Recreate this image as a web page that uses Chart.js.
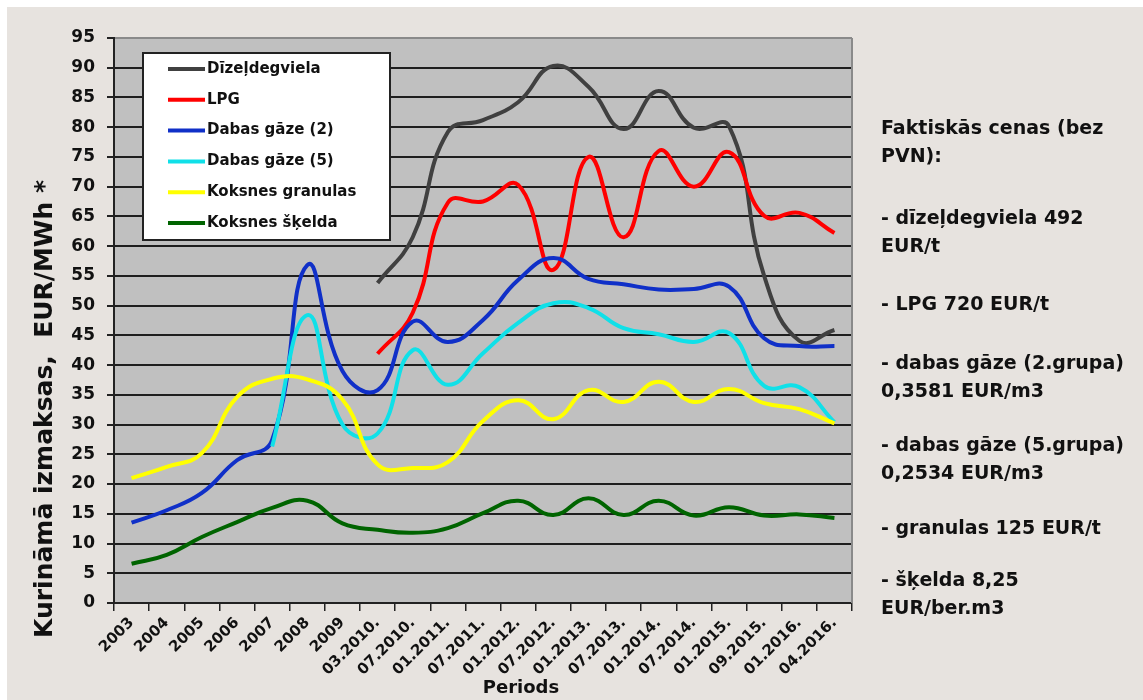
<!DOCTYPE html>
<html>
<head>
<meta charset="utf-8">
<script src="https://cdn.jsdelivr.net/npm/chart.js@4"></script>
<style>
  html, body { margin: 0; padding: 0; background: #ffffff; }
  #wrap { position: absolute; left: 7px; top: 7px; width: 1136px; height: 693px; background: #e7e3df; }
  #chart { position: absolute; left: 0; top: 0; }
  .note { position: absolute; left: 874px; font: bold 19px "DejaVu Sans", sans-serif; line-height: 28px; color: #111; white-space: nowrap; }
</style>
</head>
<body>
<div id="wrap">
  <canvas id="chart" width="1136" height="693"></canvas>
  <div class="note" style="top:106px">Faktiskās cenas (bez<br>PVN):</div>
  <div class="note" style="top:196px">- dīzeļdegviela 492<br>EUR/t</div>
  <div class="note" style="top:282px">- LPG 720 EUR/t</div>
  <div class="note" style="top:341px">- dabas gāze (2.grupa)<br>0,3581 EUR/m3</div>
  <div class="note" style="top:423px">- dabas gāze (5.grupa)<br>0,2534 EUR/m3</div>
  <div class="note" style="top:506px">- granulas 125 EUR/t</div>
  <div class="note" style="top:558px">- šķelda 8,25<br>EUR/ber.m3</div>
</div>
<script>
const categories = ['2003', '2004', '2005', '2006', '2007', '2008', '2009',
  '03.2010.', '07.2010.', '01.2011.', '07.2011.', '01.2012.', '07.2012.', '01.2013.',
  '07.2013.', '01.2014.', '07.2014.', '01.2015.', '09.2015.', '01.2016.', '04.2016.'];

const yTicks = [0, 5, 10, 15, 20, 25, 30, 35, 40, 45, 50, 55, 60, 65, 70, 75, 80, 85, 90, 95];

const diesel  = [null, null, null, null, null, null, null, 53.8, 61.5, 79.2, 81.2, 84.2, 90.3, 86.8, 79.7, 86.1, 79.9, 80.2, 55.0, 44.1, 45.9];
const lpg     = [null, null, null, null, null, null, null, 41.9, 48.8, 67.3, 67.5, 70.3, 56.0, 75.0, 61.5, 76.0, 70.0, 75.8, 65.1, 65.6, 62.2];
const gas2    = [13.5, 15.6, 18.5, 24.0, 27.4, 56.8, 39.0, 35.8, 47.3, 43.9, 47.6, 54.3, 58.0, 54.5, 53.6, 52.7, 52.8, 53.2, 44.5, 43.2, 43.2];
const gas5    = [null, null, null, null, 26.3, 48.4, 30.0, 28.5, 42.5, 36.7, 42.0, 47.1, 50.4, 49.6, 46.2, 45.2, 43.9, 45.4, 36.5, 36.3, 30.4];
const pellets = [21.0, 22.9, 25.2, 34.6, 37.7, 37.6, 34.2, 23.3, 22.7, 23.7, 30.6, 34.1, 30.9, 35.8, 33.8, 37.2, 33.8, 36.0, 33.6, 32.6, 30.2];
const chips   = [6.6, 8.1, 11.1, 13.6, 16.0, 17.2, 13.4, 12.3, 11.8, 12.6, 15.1, 17.2, 14.8, 17.6, 14.8, 17.2, 14.7, 16.1, 14.7, 14.9, 14.3];

const seriesNames = ['Dīzeļdegviela', 'LPG', 'Dabas gāze (2)', 'Dabas gāze (5)', 'Koksnes granulas', 'Koksnes šķelda'];
const seriesColors = ['#404040', '#ff0000', '#1030c8', '#10e0e8', '#ffff00', '#006400'];
const seriesData = [diesel, lpg, gas2, gas5, pellets, chips];

const FONT = '"DejaVu Sans", sans-serif';

// plot background, right border, in-plot legend and axis titles
const decor = {
  id: 'decor',
  beforeDraw(chart) {
    const { ctx, chartArea: a } = chart;
    ctx.save();
    ctx.fillStyle = '#c0c0c0';
    ctx.fillRect(a.left, a.top, a.right - a.left, a.bottom - a.top);
    ctx.restore();
  },
  afterDatasetsDraw(chart) {
    const { ctx, chartArea: a } = chart;
    ctx.save();
    ctx.strokeStyle = '#8a8a8a';
    ctx.lineWidth = 2;
    ctx.beginPath();
    ctx.moveTo(a.right, a.top);
    ctx.lineTo(a.right, a.bottom);
    ctx.stroke();

    // legend box
    const bx = a.left + 29, by = a.top + 15, bw = 247, bh = 187;
    ctx.fillStyle = '#ffffff';
    ctx.fillRect(bx, by, bw, bh);
    ctx.strokeStyle = '#222';
    ctx.lineWidth = 2;
    ctx.strokeRect(bx, by, bw, bh);
    ctx.font = 'bold 15px ' + FONT;
    ctx.textBaseline = 'middle';
    ctx.textAlign = 'left';
    chart.data.datasets.forEach((ds, i) => {
      const y = by + 16 + i * 30.8;
      ctx.strokeStyle = ds.borderColor;
      ctx.lineWidth = 4;
      ctx.beginPath();
      ctx.moveTo(bx + 25, y);
      ctx.lineTo(bx + 62, y);
      ctx.stroke();
      ctx.fillStyle = '#111';
      ctx.fillText(ds.label, bx + 64, y);
    });

    // y title
    ctx.save();
    ctx.translate(38, 402);
    ctx.rotate(-Math.PI / 2);
    ctx.textAlign = 'center';
    ctx.font = 'bold 25px ' + FONT;
    ctx.fillText('Kurināmā izmaksas,  EUR/MWh *', 0, 0);
    ctx.restore();

    // x title
    ctx.textAlign = 'center';
    ctx.font = 'bold 18px ' + FONT;
    ctx.fillText('Periods', 514, 681);
    ctx.restore();
  }
};

new Chart(document.getElementById('chart'), {
  type: 'line',
  data: {
    labels: categories,
    datasets: seriesData.map((d, i) => ({
      label: seriesNames[i],
      data: d,
      borderColor: seriesColors[i],
      backgroundColor: seriesColors[i],
      borderWidth: 4,
      pointRadius: 0,
      tension: 0.45,
      fill: false,
      order: 5 - i
    }))
  },
  options: {
    responsive: false,
    animation: false,
    layout: { padding: { top: 31, right: 291, left: 0, bottom: 0 } },
    plugins: { legend: { display: false }, tooltip: { enabled: false } },
    scales: {
      x: {
        offset: true,
        afterFit(scale) { scale.height = 97; },
        grid: { offset: true, drawOnChartArea: false, tickLength: 8, color: '#222', lineWidth: 1.5 },
        border: { color: '#222', width: 2 },
        ticks: {
          autoSkip: false, maxRotation: 45, minRotation: 45, padding: 3,
          color: '#111', font: { family: FONT, size: 15, weight: 'bold' }
        }
      },
      y: {
        min: 0,
        max: 95,
        afterFit(scale) { scale.width = 107; },
        afterBuildTicks(scale) { scale.ticks = yTicks.map(v => ({ value: v })); },
        grid: {
          color: ctx => ctx.tick && ctx.tick.value === 95 ? '#8a8a8a' : '#1e1e1e',
          lineWidth: 2, tickLength: 7, tickColor: '#222'
        },
        border: { color: '#222', width: 2 },
        ticks: { padding: 12, color: '#111', font: { family: FONT, size: 17, weight: 'bold' } }
      }
    }
  },
  plugins: [decor]
});
</script>
</body>
</html>
